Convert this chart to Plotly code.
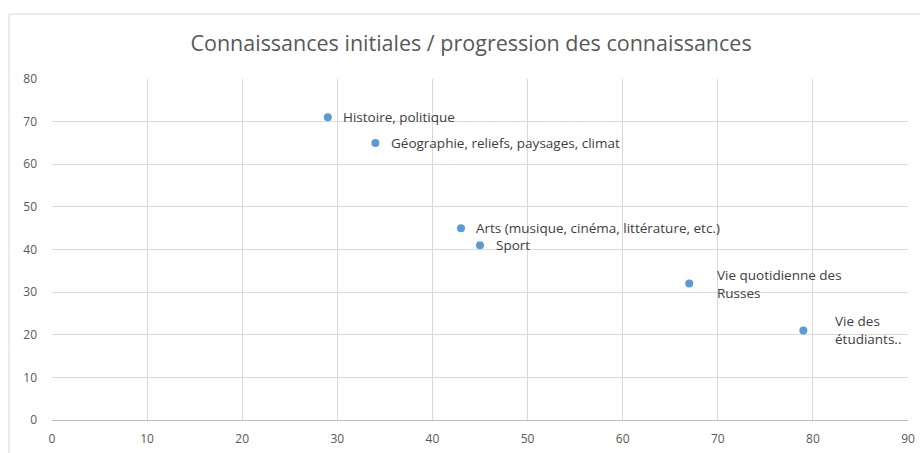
import plotly.graph_objects as go

# Data
categories = [
    "Histoire, politique",
    "Géographie, reliefs, paysages, climat",
    "Arts (musique, cinéma, littérature, etc.)",
    "Sport",
    "Vie quotidienne des<br>Russes",
    "Vie des<br>étudiants..",
]
connaissances_initiales = [29, 34, 43, 45, 67, 79]
progression = [71, 65, 45, 41, 32, 21]
x_ticks = [0, 10, 20, 30, 40, 50, 60, 70, 80, 90]
y_ticks = [0, 10, 20, 30, 40, 50, 60, 70, 80]
title_text = "Connaissances initiales / progression des connaissances"

# label styling offsets (pixels)
label_xshift = [13, 14, 13, 14, 26, 30]

W, H = 920, 453
ml, mr, mt, mb = 52, 12, 79, 33
pw, ph = W - ml - mr, H - mt - mb

fig = go.Figure()
fig.add_trace(go.Scatter(
    x=connaissances_initiales, y=progression, mode="markers",
    marker=dict(color="#5B9BD5", size=8),
    hoverinfo="x+y", showlegend=False,
))

for xv, yv, lab, sh in zip(connaissances_initiales, progression, categories, label_xshift):
    fig.add_annotation(
        x=xv, y=yv, text=lab, showarrow=False, xanchor="left", yanchor="middle",
        xshift=sh, align="left",
        font=dict(family="Open Sans, sans-serif", size=13.5, color="#404040"),
    )

# chart-area border
fig.add_shape(
    type="rect", xref="paper", yref="paper",
    x0=(9 - ml) / pw, x1=1.05, y0=-0.2, y1=(H - mb - 14) / ph,
    line=dict(color="#d9d9d9", width=1), fillcolor="rgba(0,0,0,0)", layer="below",
)

fig.update_layout(
    width=W, height=H,
    margin=dict(l=ml, r=mr, t=mt, b=mb, autoexpand=False),
    paper_bgcolor="white", plot_bgcolor="white",
    title=dict(text=title_text, x=0.512, xanchor="center", xref="container",
               y=1 - 43 / H, yanchor="middle", yref="container",
               font=dict(family="Open Sans, sans-serif", size=21.5, color="#595959")),
    font=dict(family="Open Sans, sans-serif", size=12, color="#595959"),
    xaxis=dict(range=[0, 90], tickmode="array", tickvals=x_ticks,
               showgrid=True, gridcolor="#d9d9d9", gridwidth=1,
               zeroline=False, showline=True, linecolor="#bfbfbf",
               ticks="", ticklabelstandoff=8, automargin=False,
               tickfont=dict(size=12, color="#595959")),
    yaxis=dict(range=[0, 80], tickmode="array", tickvals=y_ticks,
               showgrid=True, gridcolor="#d9d9d9", gridwidth=1,
               zeroline=False, showline=False,
               ticks="", ticklabelstandoff=14, automargin=False,
               tickfont=dict(size=12, color="#595959")),
)

fig.write_html(
    "out.html",
    config={"displayModeBar": False},
    post_script="document.body.style.margin='0px';document.body.style.overflow='hidden';",
)
